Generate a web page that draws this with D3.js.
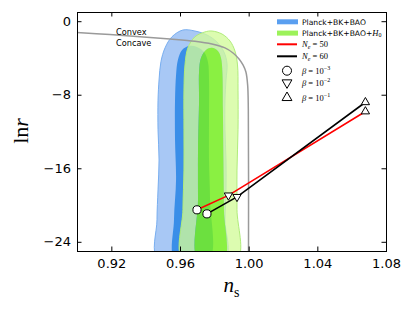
<!DOCTYPE html>
<html>
<head>
<meta charset="utf-8">
<script src="https://cdn.jsdelivr.net/npm/d3@7"></script>
<style>
  body { margin: 0; background: #fff; }
  svg { display: block; }
</style>
</head>
<body>
<div></div>
<script>
const width = 415;
const height = 310;
const margin = { top: 12, right: 29, bottom: 59, left: 77 };

// contour outlines, [ns, lnr]; the bottom runs below the axis and is clipped
const blueOuter = [
  [0.9472, -26], [0.9466, -21.6], [0.9472, -18.35], [0.9478, -15.1], [0.9472, -11.8],
  [0.9472, -8.6], [0.9478, -6.4], [0.9489, -4.4], [0.9513, -2.9], [0.9553, -1.7],
  [0.9617, -0.96], [0.9687, -1.07], [0.9757, -1.5], [0.9815, -2.26], [0.9856, -3.35],
  [0.9874, -4.65], [0.9868, -6.4], [0.9862, -8.6], [0.9862, -11.8], [0.9868, -15.1],
  [0.9868, -18.35], [0.9862, -21.6], [0.9862, -26],
];
const blueInner = [
  [0.9571, -26], [0.9565, -21.6], [0.9577, -17.26], [0.9571, -12.9], [0.9571, -8.6],
  [0.9577, -5.85], [0.9588, -4.2], [0.9612, -3.13], [0.9652, -2.7], [0.9699, -2.8],
  [0.974, -3.35], [0.9763, -4.43], [0.9769, -6.4], [0.9769, -10.74], [0.9769, -15.1],
  [0.9775, -19.43], [0.9769, -26],
];
const greenOuter = [
  [0.9617, -26], [0.9617, -20.5], [0.9623, -16.2], [0.9623, -11.8], [0.9623, -7.5],
  [0.9629, -4.76], [0.9646, -2.9], [0.9687, -1.7], [0.9745, -1.17], [0.9786, -1.07],
  [0.9845, -1.4], [0.9891, -2.15], [0.992, -3.24], [0.9935, -4.76], [0.9938, -7.5],
  [0.9938, -11.8], [0.9932, -16.2], [0.9932, -20.5], [0.9932, -26],
];
const greenInner = [
  [0.9705, -26], [0.9705, -19.4], [0.9705, -14.0], [0.9711, -8.6], [0.9711, -5.5],
  [0.9722, -4.0], [0.9751, -3.13], [0.9786, -2.9], [0.9821, -3.24], [0.9839, -4.0],
  [0.9847, -5.5], [0.985, -9.65], [0.9853, -15.1], [0.9856, -20.5], [0.9856, -26],
];

// convex / concave boundary
const boundary = [
  [0.9, -1.23], [0.9192, -1.45], [0.9367, -1.68], [0.9542, -1.93], [0.9687, -2.18],
  [0.9786, -2.48], [0.9862, -2.91], [0.9909, -3.46], [0.9944, -4.11], [0.9967, -4.76],
  [0.9984, -5.52], [0.9994, -6.93], [0.9998, -9.65], [0.9999, -26],
];

// model predictions at beta = 1e-3, 1e-2, 1e-1
const ns50 = [0.9699, 0.9882, 1.068];
const lnr50 = [-20.52, -18.95, -9.82];
const ns60 = [0.9757, 0.9932, 1.068];
const lnr60 = [-20.96, -19.11, -8.82];
const betaExp = ["−3", "−2", "−1"];

const xTicks = [0.92, 0.96, 1.0, 1.04, 1.08];
const yTicks = [0, -8, -16, -24];

const svg = d3.select("div").append("svg")
  .attr("width", width)
  .attr("height", height);

const x = d3.scaleLinear().domain([0.9, 1.08]).range([margin.left, width - margin.right]);
const y = d3.scaleLinear().domain([-25, 1]).range([height - margin.bottom, margin.top]);

svg.append("clipPath").attr("id", "plot")
  .append("rect")
  .attr("x", margin.left).attr("y", margin.top)
  .attr("width", width - margin.left - margin.right)
  .attr("height", height - margin.top - margin.bottom);

const g = svg.append("g").attr("clip-path", "url(#plot)");

const shape = d3.line().x(d => x(d[0])).y(d => y(d[1])).curve(d3.curveCatmullRomClosed.alpha(0.5));

// blue: Planck+BK+BAO
g.append("path").attr("d", shape(blueOuter))
  .attr("fill", "#a8c8f5").attr("stroke", "#78aef0").attr("stroke-width", 1);
g.append("path").attr("d", shape(blueInner)).attr("fill", "#3a8ee8");

// green: Planck+BK+BAO+H0 (outer band drawn as a ring so it doesn't stack on the inner fill)
g.append("path").attr("d", shape(greenOuter) + shape(greenInner))
  .attr("fill-rule", "evenodd")
  .attr("fill", "rgb(210,251,154)").attr("fill-opacity", 0.78);
g.append("path").attr("d", shape(greenOuter))
  .attr("fill", "none").attr("stroke", "#b0ec7a").attr("stroke-width", 1);
g.append("path").attr("d", shape(greenInner))
  .attr("fill", "#7fff00").attr("fill-opacity", 0.73);

g.append("path")
  .attr("d", d3.line().x(d => x(d[0])).y(d => y(d[1])).curve(d3.curveCatmullRom)(boundary))
  .attr("fill", "none").attr("stroke", "#9a9a9a").attr("stroke-width", 1.5);

svg.append("text").attr("x", 116).attr("y", 35)
  .attr("font-family", "DejaVu Sans").attr("font-size", 8.2).text("Convex");
svg.append("text").attr("x", 116).attr("y", 45.5)
  .attr("font-family", "DejaVu Sans").attr("font-size", 8.2).text("Concave");

const curve = d3.line().x(d => x(d[0])).y(d => y(d[1]));
const models = [
  { ns: ns50, lnr: lnr50, colour: "#ff0000" },
  { ns: ns60, lnr: lnr60, colour: "#000000" },
];
models.forEach(m => {
  g.append("path")
    .attr("d", curve(m.ns.map((v, i) => [v, m.lnr[i]])))
    .attr("fill", "none").attr("stroke", m.colour).attr("stroke-width", 1.6);
});

const symbols = [
  { type: d3.symbolCircle, size: 52, rot: 0 },
  { type: d3.symbolTriangle, size: 30, rot: 180 },
  { type: d3.symbolTriangle, size: 30, rot: 0 },
];

models.forEach(m => {
  m.ns.forEach((v, k) => {
    svg.append("path")
      .attr("d", d3.symbol(symbols[k].type, symbols[k].size)())
      .attr("transform", "translate(" + x(v) + "," + y(m.lnr[k]) + ") rotate(" + symbols[k].rot + ")")
      .attr("fill", "#fff").attr("stroke", "#000").attr("stroke-width", 1);
  });
});

// axes, ticks inward on all four sides
const fmtMinus = d => String(d).replace("-", "−");
svg.append("g")
  .attr("transform", "translate(0," + (height - margin.bottom) + ")")
  .call(d3.axisBottom(x).tickValues(xTicks).tickFormat(d3.format(".2f")).tickSize(-4.5).tickSizeOuter(0).tickPadding(7.5));
svg.append("g")
  .attr("transform", "translate(" + margin.left + ",0)")
  .call(d3.axisLeft(y).tickValues(yTicks).tickFormat(fmtMinus).tickSize(-4.5).tickSizeOuter(0).tickPadding(6));
svg.append("g")
  .attr("transform", "translate(0," + margin.top + ")")
  .call(d3.axisTop(x).tickValues(xTicks).tickFormat("").tickSize(-4.5).tickSizeOuter(0));
svg.append("g")
  .attr("transform", "translate(" + (width - margin.right) + ",0)")
  .call(d3.axisRight(y).tickValues(yTicks).tickFormat("").tickSize(-4.5).tickSizeOuter(0));

svg.selectAll(".domain").remove();
svg.selectAll(".tick line").attr("stroke", "#000");
svg.selectAll(".tick text")
  .attr("font-family", "DejaVu Sans").attr("font-size", 13).attr("fill", "#000");

svg.append("rect")
  .attr("x", margin.left + 0.5).attr("y", margin.top + 0.5)
  .attr("width", width - margin.left - margin.right)
  .attr("height", height - margin.top - margin.bottom)
  .attr("fill", "none").attr("stroke", "#000").attr("stroke-width", 1);

// axis labels
const xl = svg.append("text")
  .attr("x", (margin.left + width - margin.right) / 2).attr("y", 292)
  .attr("text-anchor", "middle")
  .attr("font-family", "Liberation Serif").attr("font-size", 21);
xl.append("tspan").attr("font-style", "italic").text("n");
xl.append("tspan").attr("font-size", 14).attr("dy", 4.5).text("s");

const yl = svg.append("text")
  .attr("transform", "translate(28,131) rotate(-90)")
  .attr("text-anchor", "middle")
  .attr("font-family", "Liberation Serif").attr("font-size", 22);
yl.append("tspan").text("ln");
yl.append("tspan").attr("font-style", "italic").text("r");

// legend
const lx = 277;
const tx = 302;
const legend = svg.append("g");
const sans = t => legend.append("text").attr("x", tx).attr("font-family", "DejaVu Sans").attr("font-size", 7.6).text(t);

legend.append("rect").attr("x", lx).attr("y", 19.3).attr("width", 21).attr("height", 5).attr("fill", "#5a9ff0");
sans("Planck+BK+BAO").attr("y", 24.5);
legend.append("rect").attr("x", lx).attr("y", 30.6).attr("width", 21).attr("height", 5).attr("fill", "#9cf25a");
const h0 = sans("Planck+BK+BAO+").attr("y", 35.8);
h0.append("tspan").attr("font-family", "Liberation Serif").attr("font-style", "italic").attr("font-size", 8.5).text("H");
h0.append("tspan").attr("font-family", "Liberation Serif").attr("font-size", 6).attr("dy", 1.5).text("0");

const mathRow = (yy, parts) => {
  const t = legend.append("text").attr("x", tx).attr("y", yy)
    .attr("font-family", "Liberation Serif").attr("font-size", 8.5);
  parts.forEach(p => {
    const s = t.append("tspan").text(p.t);
    if (p.i) s.attr("font-style", "italic");
    if (p.s) s.attr("font-size", 6);
    if (p.dy) s.attr("dy", p.dy);
  });
};

[{ y: 44.3, c: "#ff0000", n: "50" }, { y: 56.3, c: "#000000", n: "60" }].forEach(r => {
  legend.append("line").attr("x1", lx).attr("x2", 297).attr("y1", r.y).attr("y2", r.y)
    .attr("stroke", r.c).attr("stroke-width", 2);
  mathRow(r.y + 2.8, [{ t: "N", i: true }, { t: "e", i: true, s: true, dy: 1.5 }, { t: " = " + r.n, dy: -1.5 }]);
});

const markerRows = [70.7, 82.7, 97.7];
markerRows.forEach((yy, k) => {
  legend.append("path")
    .attr("d", d3.symbol(symbols[k].type, symbols[k].size + 12)())
    .attr("transform", "translate(287," + yy + ") rotate(" + symbols[k].rot + ")")
    .attr("fill", "#fff").attr("stroke", "#000").attr("stroke-width", 1);
  mathRow(yy + 2.8, [{ t: "β", i: true }, { t: " = 10" }, { t: betaExp[k], s: true, dy: -3.5 }]);
});
</script>
</body>
</html>
